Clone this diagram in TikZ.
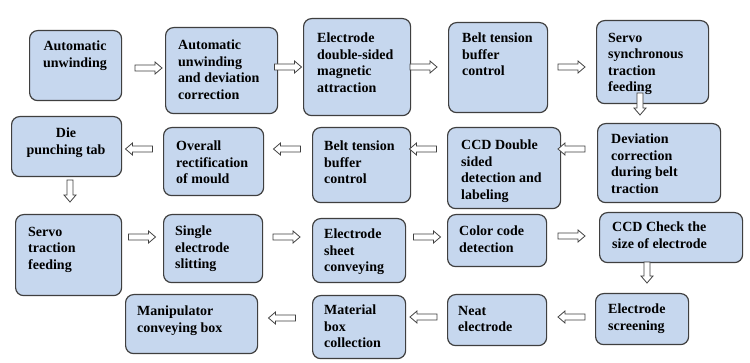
\documentclass[tikz,border=0pt]{standalone}
\usepackage{fontspec}
\setmainfont{Liberation Serif}[UprightFont={Liberation Serif}, BoldFont={Liberation Serif Bold}]
\definecolor{boxfill}{HTML}{C6D7EE}
\definecolor{boxline}{HTML}{3F3F3F}
\definecolor{arrline}{HTML}{404040}
\tikzset{
  procbox/.style={draw=boxline, fill=boxfill, line width=1.2pt, rounded corners=8pt,
    anchor=north west, inner sep=0pt},
  txt/.style={inner sep=0pt, font=\fontsize{14}{16.5}\selectfont\bfseries, align=left, anchor=north west},
  ctxt/.style={txt, align=center, anchor=north},
  pics/harrow/.style={code={%
    \draw[draw=arrline, fill=white, line width=0.8pt]
      (-#1/2,-3) -- (#1/2-7,-3) -- (#1/2-7,-6) -- (#1/2,0) -- (#1/2-7,6)
      -- (#1/2-7,3) -- (-#1/2,3) -- cycle;}},
  pics/harrow/.default=27,
}
\newcommand{\procbox}[5]{%
  \node[procbox, minimum width={#3-#1}, minimum height={#4-#2}] (#5) at (#1,#2) {};}
\begin{document}
\begin{tikzpicture}[x=1pt,y=-1pt]
\fill[white] (0,0) rectangle (750,363);
\useasboundingbox (0,0) rectangle (750,363);
% boxes
\procbox{29}{30}{121}{100}{b1}
\procbox{165}{27}{277}{113}{b2}
\procbox{303}{18}{410}{115}{b3}
\procbox{448}{22}{547}{112}{b4}
\procbox{596}{20}{708}{103}{b5}
\procbox{11}{116}{121}{176}{b6}
\procbox{163}{127}{263}{195}{b7}
\procbox{312}{127}{410}{202}{b8}
\procbox{447}{127}{560}{208}{b9}
\procbox{597}{123}{720}{202}{b10}
\procbox{15}{214}{121}{295}{b11}
\procbox{163}{214}{262}{282}{b12}
\procbox{312}{218}{405}{282}{b13}
\procbox{447}{214}{546}{266}{b14}
\procbox{599}{212}{742}{262}{b15}
\procbox{125}{294}{257}{353}{b16}
\procbox{312}{295}{405}{358}{b17}
\procbox{447}{294}{546}{345}{b18}
\procbox{595}{293}{688}{344}{b19}
% texts
\node[ctxt] (t1) at (75,41) {Automatic\\unwinding};
\node[txt] (t2) at (178,40) {Automatic\\unwinding\\and deviation\\correction};
\node[txt] (t3) at (317,33) {Electrode\\double-sided\\magnetic\\attraction};
\node[txt] (t4) at (462,33) {Belt tension\\buffer\\control};
\node[txt] (t5) at (608,33) {Servo\\synchronous\\traction\\feeding};
\node[ctxt] (t6) at (66,128) {Die\\punching tab};
\node[txt] (t7) at (176,141) {Overall\\rectification\\of mould};
\node[txt] (t8) at (324,141) {Belt tension\\buffer\\control};
\node[txt] (t9) at (461,140) {CCD Double\\sided\\detection and\\labeling};
\node[txt] (t10) at (611,134) {Deviation\\correction\\during belt\\traction};
\node[txt] (t11) at (28,227) {Servo\\traction\\feeding};
\node[txt] (t12) at (175,226) {Single\\electrode\\slitting};
\node[txt] (t13) at (324,229) {Electrode\\sheet\\conveying};
\node[txt] (t14) at (459,226) {Color code\\detection};
\node[txt] (t15) at (612,222) {CCD Check the\\size of electrode};
\node[txt] (t16) at (137,306) {Manipulator\\conveying box};
\node[txt] (t17) at (324,305) {Material\\box\\collection};
\node[txt] (t18) at (458,306) {Neat\\electrode};
\node[txt] (t19) at (608,304) {Electrode\\screening};
% arrows (hollow block arrows between boxes)
\pic (a1) at (148.5,68) {harrow};
\pic (a2) at (288,67) {harrow};
\pic (a3) at (423.5,67) {harrow};
\pic (a4) at (571.5,67) {harrow};
\pic[rotate=-90] (a5) at (640,104) {harrow=22};
\pic[rotate=180] (a6) at (571.5,149) {harrow};
\pic[rotate=180] (a7) at (423,149) {harrow};
\pic[rotate=180] (a8) at (287,149) {harrow};
\pic[rotate=180] (a9) at (139,149) {harrow};
\pic[rotate=-90] (a10) at (70,191) {harrow=22};
\pic (a11) at (142,237) {harrow};
\pic (a12) at (286.5,237) {harrow};
\pic (a13) at (427,237) {harrow};
\pic (a14) at (571.5,236) {harrow};
\pic[rotate=-90] (a15) at (647,272.5) {harrow=21};
\pic[rotate=180] (a16) at (571.5,317) {harrow};
\pic[rotate=180] (a17) at (423.5,317) {harrow};
\pic[rotate=180] (a18) at (282,318) {harrow};
\end{tikzpicture}
\end{document}
